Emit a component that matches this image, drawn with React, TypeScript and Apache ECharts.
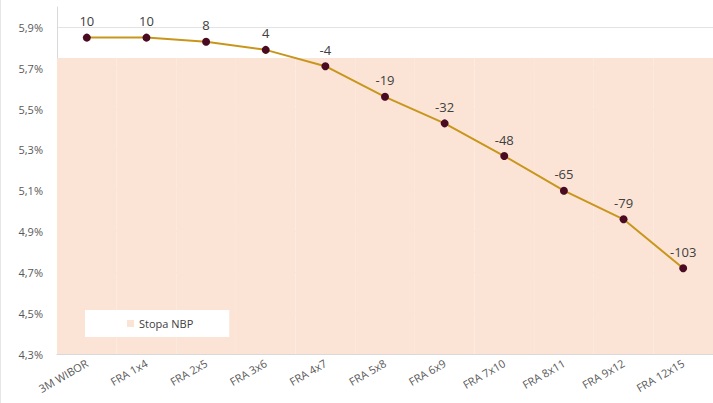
import React, { useEffect, useRef } from "react";
import * as echarts from "echarts";

const categories = ["3M WIBOR", "FRA 1x4", "FRA 2x5", "FRA 3x6", "FRA 4x7", "FRA 5x8", "FRA 6x9", "FRA 7x10", "FRA 8x11", "FRA 9x12", "FRA 12x15"];
const rates = [5.85, 5.85, 5.83, 5.79, 5.71, 5.56, 5.43, 5.27, 5.10, 4.96, 4.72];
const spreads = [10, 10, 8, 4, -4, -19, -32, -48, -65, -79, -103];
const nbpRate = categories.map(() => 5.75);
const nbpName = "Stopa NBP";

export default function App() {
  const ref = useRef<HTMLDivElement>(null);
  useEffect(() => {
    if (!ref.current) return;
    const chart = echarts.init(ref.current, null, { renderer: "svg" });
    const font = "'Open Sans', 'Liberation Sans', sans-serif";
    chart.setOption({
      animation: false,
      backgroundColor: "#ffffff",
      textStyle: { fontFamily: font },
      grid: { left: 57, right: 0, top: 7, bottom: 49, containLabel: false },
      legend: {
        data: [nbpName],
        left: 85,
        top: 310,
        backgroundColor: "#ffffff",
        padding: [8, 36, 8, 42],
        itemWidth: 7,
        itemHeight: 7,
        itemGap: 5,
        icon: "rect",
        textStyle: { fontSize: 11, color: "#404040", fontFamily: font, padding: [0, 0, 0, 0] },
      },
      xAxis: {
        type: "category",
        data: categories,
        boundaryGap: true,
        axisLine: { show: true, lineStyle: { color: "#d9d9d9" } },
        axisTick: { show: false },
        axisLabel: { rotate: 30, fontSize: 11, color: "#595959", margin: 8, interval: 0, fontFamily: font },
      },
      yAxis: {
        type: "value",
        min: 4.3,
        max: 6.0,
        interval: 0.2,
        axisLine: { show: true, lineStyle: { color: "#d9d9d9" } },
        axisTick: { show: false },
        splitLine: { show: true, showMaxLine: false, lineStyle: { color: "#e3e3e3" } },
        axisLabel: {
          showMaxLabel: false,
          fontSize: 11,
          color: "#595959",
          margin: 14,
          fontFamily: font,
          formatter: (v: number) => v.toFixed(1).replace(".", ",") + "%",
        },
      },
      series: [
        {
          name: nbpName,
          type: "bar",
          data: nbpRate,
          barWidth: "100%",
          barGap: "-100%",
          itemStyle: { color: "#fbe4d6" },
          silent: true,
          z: 1,
        },
        {
          name: "FRA",
          type: "line",
          data: rates,
          symbol: "circle",
          symbolSize: 8,
          lineStyle: { color: "#c9961c", width: 2 },
          itemStyle: { color: "#4a0a22" },
          z: 3,
          label: {
            show: true,
            position: "top",
            distance: 6,
            fontSize: 13,
            color: "#404040",
            fontFamily: font,
            formatter: (p: any) => String(spreads[p.dataIndex]),
          },
        },
      ],
      graphic: [
        { type: "line", shape: { x1: 0.5, y1: 0, x2: 0.5, y2: 403 }, style: { stroke: "#e6e6e6", lineWidth: 1 } },
      ],
    });
    return () => chart.dispose();
  }, []);
  return <div ref={ref} style={{ position: "fixed", left: 0, top: 0, width: 713, height: 403 }} />;
}
